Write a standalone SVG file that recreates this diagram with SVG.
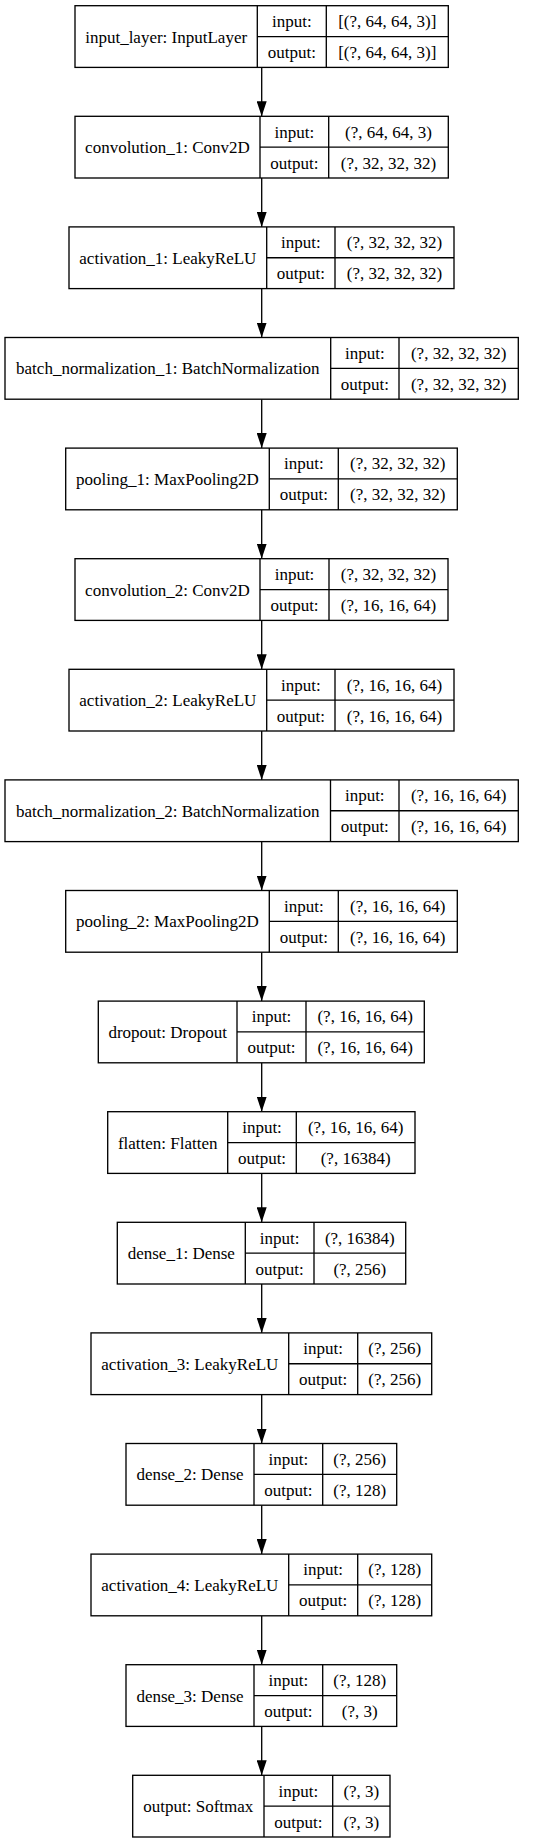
<svg xmlns="http://www.w3.org/2000/svg" width="557" height="1844" viewBox="0 0 557 1844">
<style>
.b{fill:#fff;stroke:#000;stroke-width:1.33}
.l{stroke:#000;stroke-width:1.33;fill:none}
text{font-family:"Liberation Serif","Times New Roman",serif;font-size:17px;text-anchor:middle;fill:#000}
.e{stroke:#000;stroke-width:1.33;fill:none;marker-end:url(#ah)}
</style>
<defs>
<marker id="ah" viewBox="0 0 15 10" refX="15" refY="5" markerWidth="15" markerHeight="10" markerUnits="userSpaceOnUse" orient="auto">
<path d="M0,0 L15,5 L0,10 Z" fill="#000"/>
</marker>
</defs>
<rect width="557" height="1844" fill="#fff"/>
<g id="edges">
<line class="e" x1="261.7" y1="67.4" x2="261.7" y2="116.3"/>
<line class="e" x1="261.7" y1="178" x2="261.7" y2="226.9"/>
<line class="e" x1="261.7" y1="288.6" x2="261.7" y2="337.5"/>
<line class="e" x1="261.7" y1="399.2" x2="261.7" y2="448.1"/>
<line class="e" x1="261.7" y1="509.8" x2="261.7" y2="558.7"/>
<line class="e" x1="261.7" y1="620.4" x2="261.7" y2="669.3"/>
<line class="e" x1="261.7" y1="731" x2="261.7" y2="779.9"/>
<line class="e" x1="261.7" y1="841.6" x2="261.7" y2="890.5"/>
<line class="e" x1="261.7" y1="952.2" x2="261.7" y2="1001.1"/>
<line class="e" x1="261.7" y1="1062.8" x2="261.7" y2="1111.7"/>
<line class="e" x1="261.7" y1="1173.4" x2="261.7" y2="1222.3"/>
<line class="e" x1="261.7" y1="1284" x2="261.7" y2="1332.9"/>
<line class="e" x1="261.7" y1="1394.6" x2="261.7" y2="1443.5"/>
<line class="e" x1="261.7" y1="1505.2" x2="261.7" y2="1554.1"/>
<line class="e" x1="261.7" y1="1615.8" x2="261.7" y2="1664.7"/>
<line class="e" x1="261.7" y1="1726.4" x2="261.7" y2="1775.3"/>
</g>
<g id="n0" transform="translate(0,5.7)">
<rect class="b" x="75" y="0" width="373.3" height="61.7"/>
<line class="l" x1="257.3" y1="0" x2="257.3" y2="61.7"/><line class="l" x1="326.3" y1="0" x2="326.3" y2="61.7"/><line class="l" x1="257.3" y1="30.85" x2="448.3" y2="30.85"/>
<text x="166.15" y="36.85">input_layer: InputLayer</text>
<text x="291.8" y="21.4">input:</text><text x="291.8" y="52.3">output:</text>
<text x="387.3" y="21.4">[(?, 64, 64, 3)]</text><text x="387.3" y="52.3">[(?, 64, 64, 3)]</text>
</g>
<g id="n1" transform="translate(0,116.3)">
<rect class="b" x="75" y="0" width="373.3" height="61.7"/>
<line class="l" x1="260" y1="0" x2="260" y2="61.7"/><line class="l" x1="328.7" y1="0" x2="328.7" y2="61.7"/><line class="l" x1="260" y1="30.85" x2="448.3" y2="30.85"/>
<text x="167.5" y="36.85">convolution_1: Conv2D</text>
<text x="294.35" y="21.4">input:</text><text x="294.35" y="52.3">output:</text>
<text x="388.5" y="21.4">(?, 64, 64, 3)</text><text x="388.5" y="52.3">(?, 32, 32, 32)</text>
</g>
<g id="n2" transform="translate(0,226.9)">
<rect class="b" x="69" y="0" width="385" height="61.7"/>
<line class="l" x1="266.7" y1="0" x2="266.7" y2="61.7"/><line class="l" x1="335" y1="0" x2="335" y2="61.7"/><line class="l" x1="266.7" y1="30.85" x2="454" y2="30.85"/>
<text x="167.85" y="36.85">activation_1: LeakyReLU</text>
<text x="300.85" y="21.4">input:</text><text x="300.85" y="52.3">output:</text>
<text x="394.5" y="21.4">(?, 32, 32, 32)</text><text x="394.5" y="52.3">(?, 32, 32, 32)</text>
</g>
<g id="n3" transform="translate(0,337.5)">
<rect class="b" x="5" y="0" width="513.3" height="61.7"/>
<line class="l" x1="330.7" y1="0" x2="330.7" y2="61.7"/><line class="l" x1="399" y1="0" x2="399" y2="61.7"/><line class="l" x1="330.7" y1="30.85" x2="518.3" y2="30.85"/>
<text x="167.85" y="36.85">batch_normalization_1: BatchNormalization</text>
<text x="364.85" y="21.4">input:</text><text x="364.85" y="52.3">output:</text>
<text x="458.65" y="21.4">(?, 32, 32, 32)</text><text x="458.65" y="52.3">(?, 32, 32, 32)</text>
</g>
<g id="n4" transform="translate(0,448.1)">
<rect class="b" x="65.7" y="0" width="391.6" height="61.7"/>
<line class="l" x1="269.3" y1="0" x2="269.3" y2="61.7"/><line class="l" x1="338.3" y1="0" x2="338.3" y2="61.7"/><line class="l" x1="269.3" y1="30.85" x2="457.3" y2="30.85"/>
<text x="167.5" y="36.85">pooling_1: MaxPooling2D</text>
<text x="303.8" y="21.4">input:</text><text x="303.8" y="52.3">output:</text>
<text x="397.8" y="21.4">(?, 32, 32, 32)</text><text x="397.8" y="52.3">(?, 32, 32, 32)</text>
</g>
<g id="n5" transform="translate(0,558.7)">
<rect class="b" x="75" y="0" width="373" height="61.7"/>
<line class="l" x1="260" y1="0" x2="260" y2="61.7"/><line class="l" x1="329" y1="0" x2="329" y2="61.7"/><line class="l" x1="260" y1="30.85" x2="448" y2="30.85"/>
<text x="167.5" y="36.85">convolution_2: Conv2D</text>
<text x="294.5" y="21.4">input:</text><text x="294.5" y="52.3">output:</text>
<text x="388.5" y="21.4">(?, 32, 32, 32)</text><text x="388.5" y="52.3">(?, 16, 16, 64)</text>
</g>
<g id="n6" transform="translate(0,669.3)">
<rect class="b" x="69" y="0" width="385" height="61.7"/>
<line class="l" x1="266.7" y1="0" x2="266.7" y2="61.7"/><line class="l" x1="335" y1="0" x2="335" y2="61.7"/><line class="l" x1="266.7" y1="30.85" x2="454" y2="30.85"/>
<text x="167.85" y="36.85">activation_2: LeakyReLU</text>
<text x="300.85" y="21.4">input:</text><text x="300.85" y="52.3">output:</text>
<text x="394.5" y="21.4">(?, 16, 16, 64)</text><text x="394.5" y="52.3">(?, 16, 16, 64)</text>
</g>
<g id="n7" transform="translate(0,779.9)">
<rect class="b" x="5" y="0" width="513.3" height="61.7"/>
<line class="l" x1="330.5" y1="0" x2="330.5" y2="61.7"/><line class="l" x1="399" y1="0" x2="399" y2="61.7"/><line class="l" x1="330.5" y1="30.85" x2="518.3" y2="30.85"/>
<text x="167.75" y="36.85">batch_normalization_2: BatchNormalization</text>
<text x="364.75" y="21.4">input:</text><text x="364.75" y="52.3">output:</text>
<text x="458.65" y="21.4">(?, 16, 16, 64)</text><text x="458.65" y="52.3">(?, 16, 16, 64)</text>
</g>
<g id="n8" transform="translate(0,890.5)">
<rect class="b" x="65.7" y="0" width="391.6" height="61.7"/>
<line class="l" x1="269.3" y1="0" x2="269.3" y2="61.7"/><line class="l" x1="338.3" y1="0" x2="338.3" y2="61.7"/><line class="l" x1="269.3" y1="30.85" x2="457.3" y2="30.85"/>
<text x="167.5" y="36.85">pooling_2: MaxPooling2D</text>
<text x="303.8" y="21.4">input:</text><text x="303.8" y="52.3">output:</text>
<text x="397.8" y="21.4">(?, 16, 16, 64)</text><text x="397.8" y="52.3">(?, 16, 16, 64)</text>
</g>
<g id="n9" transform="translate(0,1001.1)">
<rect class="b" x="98.3" y="0" width="326" height="61.7"/>
<line class="l" x1="237" y1="0" x2="237" y2="61.7"/><line class="l" x1="306" y1="0" x2="306" y2="61.7"/><line class="l" x1="237" y1="30.85" x2="424.3" y2="30.85"/>
<text x="167.65" y="36.85">dropout: Dropout</text>
<text x="271.5" y="21.4">input:</text><text x="271.5" y="52.3">output:</text>
<text x="365.15" y="21.4">(?, 16, 16, 64)</text><text x="365.15" y="52.3">(?, 16, 16, 64)</text>
</g>
<g id="n10" transform="translate(0,1111.7)">
<rect class="b" x="107.7" y="0" width="307.3" height="61.7"/>
<line class="l" x1="227.7" y1="0" x2="227.7" y2="61.7"/><line class="l" x1="296.3" y1="0" x2="296.3" y2="61.7"/><line class="l" x1="227.7" y1="30.85" x2="415" y2="30.85"/>
<text x="167.7" y="36.85">flatten: Flatten</text>
<text x="262" y="21.4">input:</text><text x="262" y="52.3">output:</text>
<text x="355.65" y="21.4">(?, 16, 16, 64)</text><text x="355.65" y="52.3">(?, 16384)</text>
</g>
<g id="n11" transform="translate(0,1222.3)">
<rect class="b" x="117.3" y="0" width="288.4" height="61.7"/>
<line class="l" x1="245.3" y1="0" x2="245.3" y2="61.7"/><line class="l" x1="314" y1="0" x2="314" y2="61.7"/><line class="l" x1="245.3" y1="30.85" x2="405.7" y2="30.85"/>
<text x="181.3" y="36.85">dense_1: Dense</text>
<text x="279.65" y="21.4">input:</text><text x="279.65" y="52.3">output:</text>
<text x="359.85" y="21.4">(?, 16384)</text><text x="359.85" y="52.3">(?, 256)</text>
</g>
<g id="n12" transform="translate(0,1332.9)">
<rect class="b" x="91" y="0" width="340.7" height="61.7"/>
<line class="l" x1="288.7" y1="0" x2="288.7" y2="61.7"/><line class="l" x1="357.7" y1="0" x2="357.7" y2="61.7"/><line class="l" x1="288.7" y1="30.85" x2="431.7" y2="30.85"/>
<text x="189.85" y="36.85">activation_3: LeakyReLU</text>
<text x="323.2" y="21.4">input:</text><text x="323.2" y="52.3">output:</text>
<text x="394.7" y="21.4">(?, 256)</text><text x="394.7" y="52.3">(?, 256)</text>
</g>
<g id="n13" transform="translate(0,1443.5)">
<rect class="b" x="126" y="0" width="270.7" height="61.7"/>
<line class="l" x1="254" y1="0" x2="254" y2="61.7"/><line class="l" x1="322.7" y1="0" x2="322.7" y2="61.7"/><line class="l" x1="254" y1="30.85" x2="396.7" y2="30.85"/>
<text x="190" y="36.85">dense_2: Dense</text>
<text x="288.35" y="21.4">input:</text><text x="288.35" y="52.3">output:</text>
<text x="359.7" y="21.4">(?, 256)</text><text x="359.7" y="52.3">(?, 128)</text>
</g>
<g id="n14" transform="translate(0,1554.1)">
<rect class="b" x="91" y="0" width="340.7" height="61.7"/>
<line class="l" x1="288.7" y1="0" x2="288.7" y2="61.7"/><line class="l" x1="357.7" y1="0" x2="357.7" y2="61.7"/><line class="l" x1="288.7" y1="30.85" x2="431.7" y2="30.85"/>
<text x="189.85" y="36.85">activation_4: LeakyReLU</text>
<text x="323.2" y="21.4">input:</text><text x="323.2" y="52.3">output:</text>
<text x="394.7" y="21.4">(?, 128)</text><text x="394.7" y="52.3">(?, 128)</text>
</g>
<g id="n15" transform="translate(0,1664.7)">
<rect class="b" x="126" y="0" width="270.7" height="61.7"/>
<line class="l" x1="254" y1="0" x2="254" y2="61.7"/><line class="l" x1="322.7" y1="0" x2="322.7" y2="61.7"/><line class="l" x1="254" y1="30.85" x2="396.7" y2="30.85"/>
<text x="190" y="36.85">dense_3: Dense</text>
<text x="288.35" y="21.4">input:</text><text x="288.35" y="52.3">output:</text>
<text x="359.7" y="21.4">(?, 128)</text><text x="359.7" y="52.3">(?, 3)</text>
</g>
<g id="n16" transform="translate(0,1775.3)">
<rect class="b" x="132.7" y="0" width="257.3" height="61.7"/>
<line class="l" x1="264" y1="0" x2="264" y2="61.7"/><line class="l" x1="332.7" y1="0" x2="332.7" y2="61.7"/><line class="l" x1="264" y1="30.85" x2="390" y2="30.85"/>
<text x="198.35" y="36.85">output: Softmax</text>
<text x="298.35" y="21.4">input:</text><text x="298.35" y="52.3">output:</text>
<text x="361.35" y="21.4">(?, 3)</text><text x="361.35" y="52.3">(?, 3)</text>
</g>
</svg>
